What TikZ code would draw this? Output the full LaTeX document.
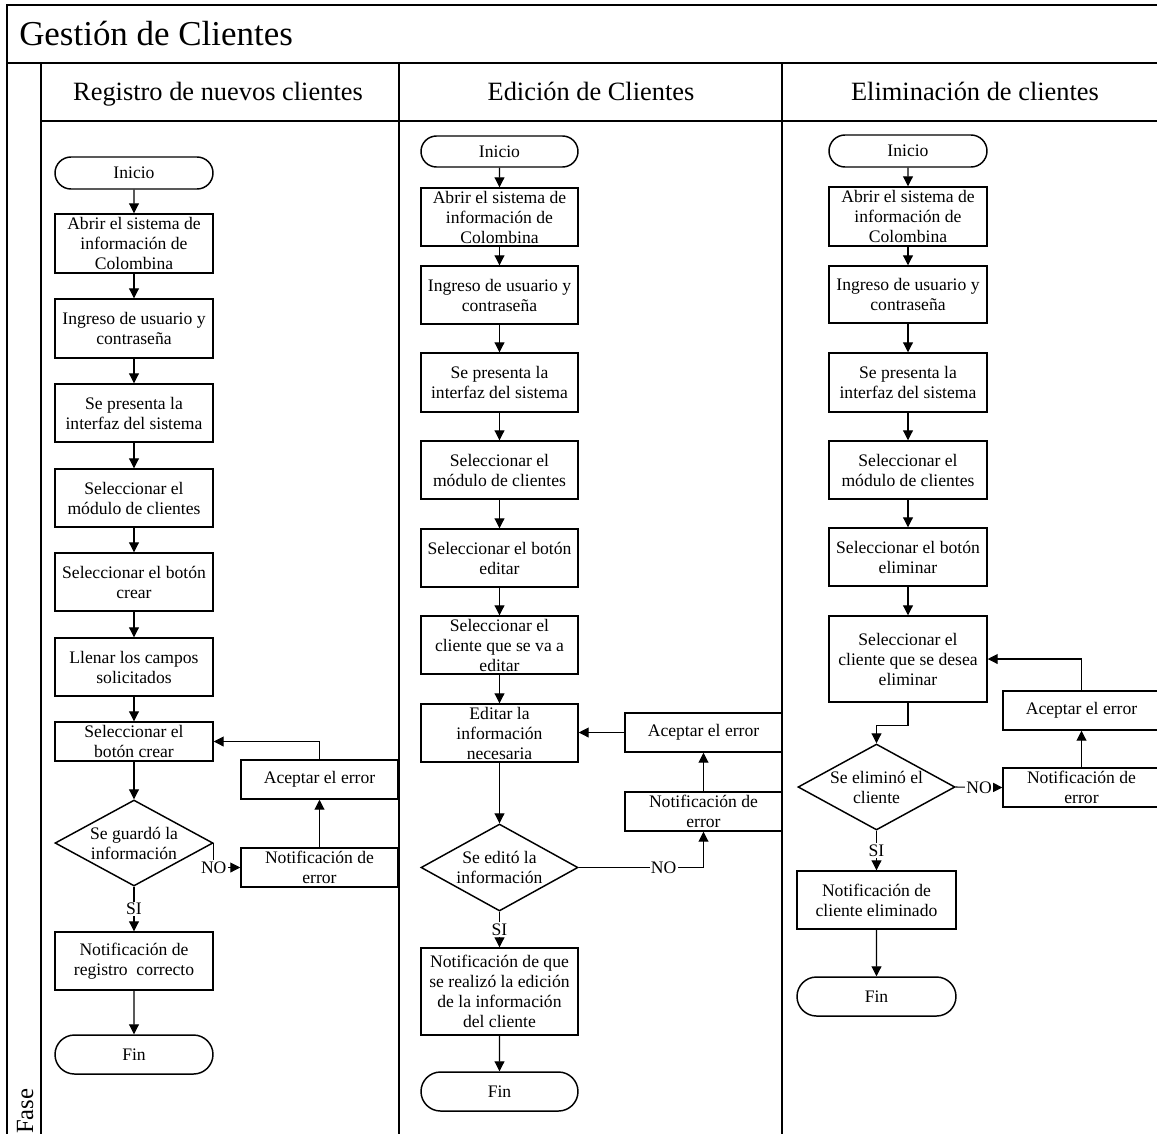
\documentclass[tikz,border=0pt]{standalone}
\usepackage{fontspec}
\setmainfont{Liberation Serif}
\usetikzlibrary{arrows.meta,shapes.misc,shapes.geometric}

\newcommand\flowfont{\fontsize{13.2pt}{15pt}\selectfont}
\newcommand\lanefont{\fontsize{19.8pt}{23pt}\selectfont}
\newcommand\titlefont{\fontsize{26.2pt}{30pt}\selectfont}

\begin{document}
\begin{tikzpicture}[x=0.75pt,y=-0.75pt,
  frame/.style={line width=1.4pt},
  wh/.style 2 args={minimum width=#1*0.75pt, minimum height=#2*0.75pt},
  box/.style={draw, rectangle, line width=1.1pt, inner sep=0pt, align=center, font=\flowfont},
  term/.style={draw, rounded rectangle, line width=1.1pt, inner sep=0pt, align=center, font=\flowfont},
  dec/.style={draw, diamond, line width=1.1pt, inner sep=0pt},
  dtext/.style={align=center, font=\flowfont, inner sep=0pt},
  arr/.style={-{Triangle[length=7.5pt,width=7.5pt]}, line width=0.8pt},
  lbl/.style={fill=white, inner sep=1pt, font=\flowfont},
  hdr/.style={inner sep=0pt, font=\lanefont}
]
\useasboundingbox (0,0) rectangle (1157,1133);
\clip (0,0) rectangle (1157,1133);

% pool frame, title row and lanes
\draw[frame] (7,1140) -- (7,5) -- (1170,5);
\draw[frame] (7,63) -- (1170,63);
\draw[frame] (41,121) -- (1170,121);
\draw[frame] (41,63) -- (41,1140);
\draw[frame] (399,63) -- (399,1140);
\draw[frame] (782,63) -- (782,1140);

\node[anchor=base west, inner sep=0pt, font=\titlefont] (title) at (19,45) {Gestión de Clientes};
\node[hdr, anchor=base] (h1) at (218,100) {Registro de nuevos clientes};
\node[hdr, anchor=base] (h2) at (591,100) {Edición de Clientes};
\node[hdr, anchor=base] (h3) at (975,100) {Eliminación de clientes};
\node[rotate=90, anchor=base west, inner sep=0pt, font=\fontsize{18.5pt}{22pt}\selectfont] (fase) at (33,1134) {Fase};

% ---- Registro de nuevos clientes ----
\node[term, wh={158}{32}] (i1) at (134,173) {Inicio};
\node[box, wh={158}{59}] (a1) at (134,243.5) {Abrir el sistema de\\información de\\Colombina};
\node[box, wh={158}{59}] (b1) at (134,328.5) {Ingreso de usuario y\\contraseña};
\node[box, wh={158}{58}] (c1) at (134,413) {Se presenta la\\interfaz del sistema};
\node[box, wh={158}{58}] (d1) at (134,498) {Seleccionar el\\módulo de clientes};
\node[box, wh={158}{58}] (e1) at (134,582) {Seleccionar el botón\\crear};
\node[box, wh={158}{58}] (f1) at (134,667) {Llenar los campos\\solicitados};
\node[box, wh={158}{39}] (g1) at (134,741.5) {Seleccionar el\\botón crear};
\node[dec, wh={158}{86}, label={[dtext]center:{Se guardó la\\información}}] (q1) at (134,843) {};
\node[box, wh={157}{39}] (n1) at (319.5,867.5) {Notificación de\\error};
\node[box, wh={157}{39}] (r1) at (319.5,779.5) {Aceptar el error};
\node[box, wh={158}{58}] (s1) at (134,961) {Notificación de\\registro~~correcto};
\node[term, wh={158}{39}] (t1) at (134,1054.5) {Fin};

\foreach \u/\v in {i1/a1,a1/b1,b1/c1,c1/d1,d1/e1,e1/f1,f1/g1,g1/q1,s1/t1,n1/r1}
  \draw[arr] (\u) -- (\v);
\draw[arr] (q1.south) -- node[lbl]{SI} (s1.north);
\draw[arr] (q1.east) |- node[lbl, pos=0.5]{NO} (n1.west);
\draw[arr] (r1.north) |- (g1.east);

% ---- Edición de Clientes ----
\node[term, wh={157}{31}] (i2) at (499.5,151.5) {Inicio};
\node[box, wh={157}{58}] (a2) at (499.5,217) {Abrir el sistema de\\información de\\Colombina};
\node[box, wh={157}{58}] (b2) at (499.5,295) {Ingreso de usuario y\\contraseña};
\node[box, wh={157}{59}] (c2) at (499.5,382.5) {Se presenta la\\interfaz del sistema};
\node[box, wh={157}{58}] (d2) at (499.5,470) {Seleccionar el\\módulo de clientes};
\node[box, wh={157}{58}] (e2) at (499.5,558) {Seleccionar el botón\\editar};
\node[box, wh={157}{58}] (f2) at (499.5,645) {Seleccionar el\\cliente que se va a\\editar};
\node[box, wh={157}{58}] (g2) at (499.5,733) {Editar la\\información\\necesaria};
\node[dec, wh={157}{87}, label={[dtext]center:{Se editó la\\información}}] (q2) at (499.5,867.5) {};
\node[box, wh={157}{39}] (n2) at (703.5,811.5) {Notificación de\\error};
\node[box, wh={157}{39}] (r2) at (703.5,732.5) {Aceptar el error};
\node[box, wh={157}{87}] (s2) at (499.5,991.5) {Notificación de que\\se realizó la edición\\de la información\\del cliente};
\node[term, wh={157}{39}] (t2) at (499.5,1091.5) {Fin};

\foreach \u/\v in {i2/a2,a2/b2,b2/c2,c2/d2,d2/e2,e2/f2,f2/g2,g2/q2,s2/t2,n2/r2}
  \draw[arr] (\u) -- (\v);
\draw[arr] (q2.south) -- node[lbl]{SI} (s2.north);
\draw[arr] (q2.east) -| node[lbl, pos=0.34]{NO} (n2.south);
\draw[arr] (r2.west) -- (g2.east |- r2.west);

% ---- Eliminación de clientes ----
\node[term, wh={158}{32}] (i3) at (908,151) {Inicio};
\node[box, wh={158}{59}] (a3) at (908,216.5) {Abrir el sistema de\\información de\\Colombina};
\node[box, wh={158}{57}] (b3) at (908,294.5) {Ingreso de usuario y\\contraseña};
\node[box, wh={158}{59}] (c3) at (908,382.5) {Se presenta la\\interfaz del sistema};
\node[box, wh={158}{58}] (d3) at (908,470) {Seleccionar el\\módulo de clientes};
\node[box, wh={158}{58}] (e3) at (908,557) {Seleccionar el botón\\eliminar};
\node[box, wh={158}{86}] (f3) at (908,659) {Seleccionar el\\cliente que se desea\\eliminar};
\node[dec, wh={157}{86}, label={[dtext]center:{Se eliminó el\\cliente}}] (q3) at (876.5,787) {};
\node[box, wh={157}{39}] (n3) at (1081.5,787.5) {Notificación de\\error};
\node[box, wh={157}{39}] (r3) at (1081.5,710.5) {Aceptar el error};
\node[box, wh={159}{58}] (s3) at (876.5,900) {Notificación de\\cliente eliminado};
\node[term, wh={159}{39}] (t3) at (876.5,996.5) {Fin};

\foreach \u/\v in {i3/a3,a3/b3,b3/c3,c3/d3,d3/e3,e3/f3,s3/t3,n3/r3}
  \draw[arr] (\u) -- (\v);
\draw[arr] (f3.south) -- ++(0,23) -| (q3.north);
\draw[arr] (q3.south) -- node[lbl]{SI} (s3.north);
\draw[arr] (q3.east) -- node[lbl]{NO} (n3.west);
\draw[arr] (r3.north) |- (f3.east);
\end{tikzpicture}
\end{document}
